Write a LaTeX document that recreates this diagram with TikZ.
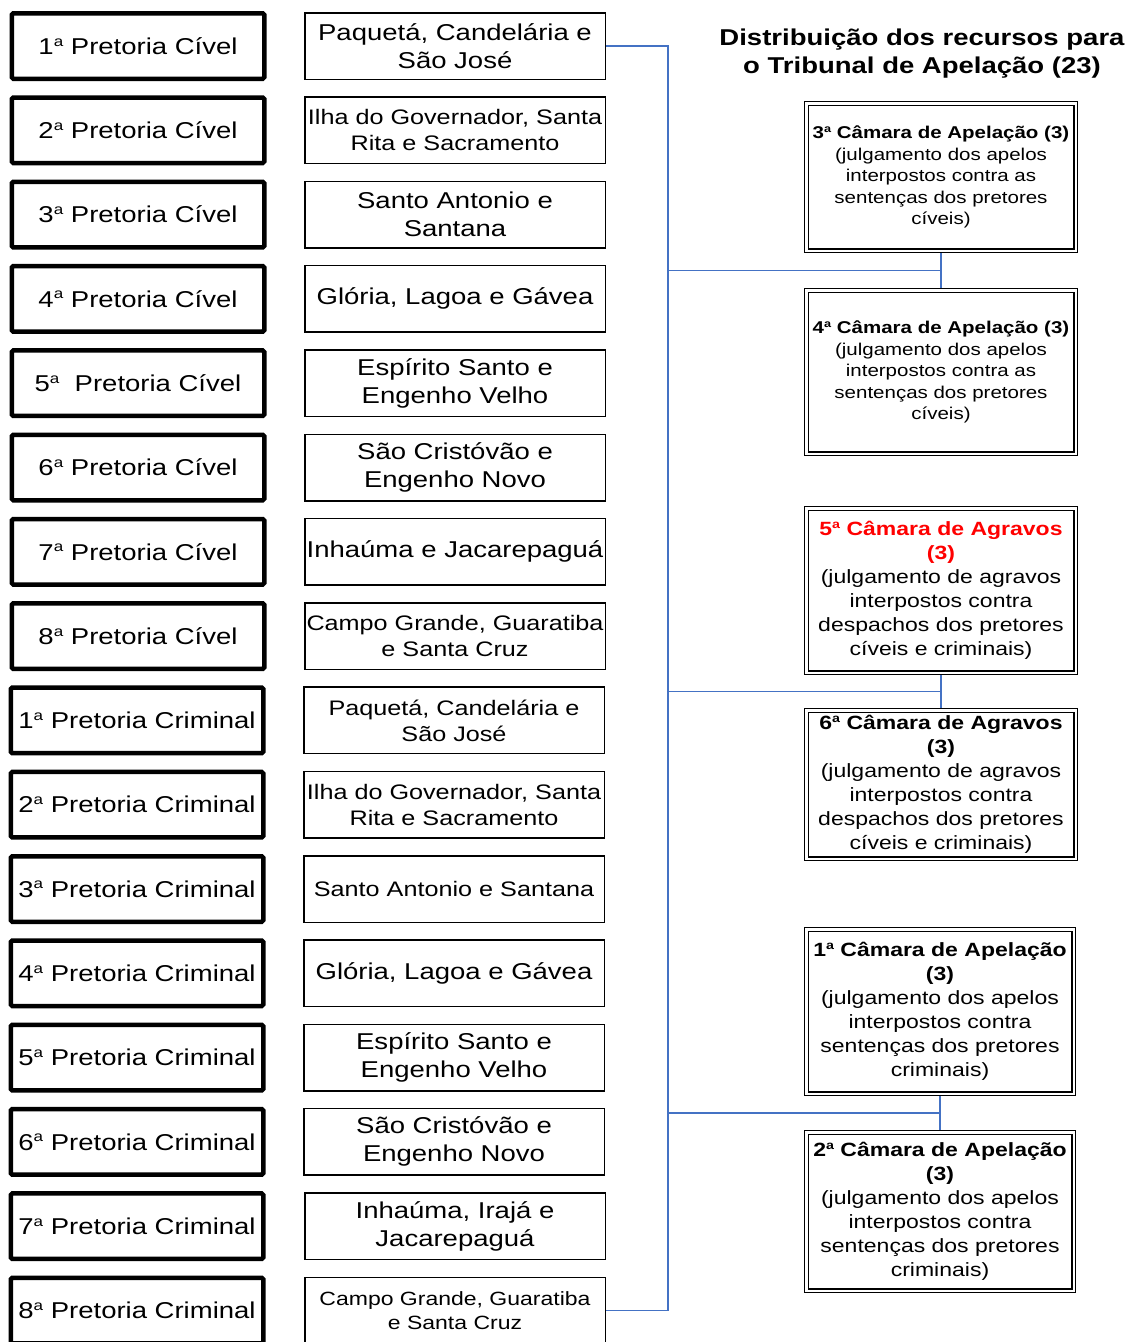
\documentclass[tikz,border=0pt]{standalone}
\usepackage{fontspec}
\setmainfont{Liberation Sans}[FakeStretch=1.2]
\usetikzlibrary{calc}
\pgfdeclarelayer{paper}
\pgfdeclarelayer{wires}
\pgfsetlayers{paper,wires,main}
\definecolor{busblue}{HTML}{4472C4}
\newcommand\ordA{\raisebox{0.36em}{\scalebox{0.62}{a}}}
\newcommand\fsz[2]{\fontsize{#1pt}{#2pt}\selectfont}

\tikzset{
  pretoria/.style={draw=black, line width=4.5pt, fill=white, rounded corners=1.5pt,
    minimum width=252.5pt, minimum height=65.5pt, inner sep=0pt, font=\fsz{22.92}{28}},
  bairro/.style={draw=black, line width=1.5pt, fill=white,
    minimum width=300.5pt, minimum height=66.5pt, inner sep=0pt, align=center},
  szA/.style={font=\fsz{22.92}{28}},
  szB/.style={font=\fsz{21}{26}},
  szC/.style={font=\fsz{19.17}{24}},
  camara/.style={draw=black, double=white, line width=1.3pt, double distance=2.2pt,
    fill=white, inner sep=0pt, align=center},
  camS/.style={font=\fsz{17.08}{21.5}},
  camL/.style={font=\fsz{19.17}{24}},
  bus/.style={draw=busblue, line width=1.8pt},
  titulo/.style={align=center, inner sep=0pt, font=\fsz{22.92}{28}\bfseries}
}

\begin{document}
\begin{tikzpicture}[x=1pt, y=-1pt]
  \path[use as bounding box] (0,0) rectangle (1128,1342);
  \begin{pgfonlayer}{paper}
    \fill[white] (0,0) rectangle (1128,1342);
  \end{pgfonlayer}
  \clip (0,0) rectangle (1128,1342);

  % pretorias
  \node[pretoria] (p1)  at (138,46)     {1\ordA{} Pretoria Cível};
  \node[pretoria] (p2)  at (138,130.3)  {2\ordA{} Pretoria Cível};
  \node[pretoria] (p3)  at (138,214.6)  {3\ordA{} Pretoria Cível};
  \node[pretoria] (p4)  at (138,298.9)  {4\ordA{} Pretoria Cível};
  \node[pretoria] (p5)  at (138,383.2)  {5\ordA{}\ \ Pretoria Cível};
  \node[pretoria] (p6)  at (138,467.5)  {6\ordA{} Pretoria Cível};
  \node[pretoria] (p7)  at (138,551.8)  {7\ordA{} Pretoria Cível};
  \node[pretoria] (p8)  at (138,636.1)  {8\ordA{} Pretoria Cível};
  \node[pretoria] (p9)  at (137,720.4)  {1\ordA{} Pretoria Criminal};
  \node[pretoria] (p10) at (137,804.7)  {2\ordA{} Pretoria Criminal};
  \node[pretoria] (p11) at (137,889)    {3\ordA{} Pretoria Criminal};
  \node[pretoria] (p12) at (137,973.3)  {4\ordA{} Pretoria Criminal};
  \node[pretoria] (p13) at (137,1057.6) {5\ordA{} Pretoria Criminal};
  \node[pretoria] (p14) at (137,1141.9) {6\ordA{} Pretoria Criminal};
  \node[pretoria] (p15) at (137,1226.2) {7\ordA{} Pretoria Criminal};
  \node[pretoria] (p16) at (137,1310.5) {8\ordA{} Pretoria Criminal};

  % freguesias
  \node[bairro, szA] (m1)  at (455,46)     {Paquetá, Candelária e\\São José};
  \node[bairro, szB] (m2)  at (455,130.3)  {Ilha do Governador, Santa\\Rita e Sacramento};
  \node[bairro, szA] (m3)  at (455,214.6)  {Santo Antonio e\\Santana};
  \node[bairro, szA] (m4)  at (455,298.9)  {Glória, Lagoa e Gávea};
  \node[bairro, szA] (m5)  at (455,383.2)  {Espírito Santo e\\Engenho Velho};
  \node[bairro, szA] (m6)  at (455,467.5)  {São Cristóvão e\\Engenho Novo};
  \node[bairro, szA] (m7)  at (455,551.8)  {Inhaúma e Jacarepaguá};
  \node[bairro, szB] (m8)  at (455,636.1)  {Campo Grande, Guaratiba\\e Santa Cruz};
  \node[bairro, szB] (m9)  at (454,720.4)  {Paquetá, Candelária e\\São José};
  \node[bairro, szB] (m10) at (454,804.7)  {Ilha do Governador, Santa\\Rita e Sacramento};
  \node[bairro, szB] (m11) at (454,889)    {Santo Antonio e Santana};
  \node[bairro, szA] (m12) at (454,973.3)  {Glória, Lagoa e Gávea};
  \node[bairro, szA] (m13) at (454,1057.6) {Espírito Santo e\\Engenho Velho};
  \node[bairro, szA] (m14) at (454,1141.9) {São Cristóvão e\\Engenho Novo};
  \node[bairro, szA] (m15) at (455,1226.2) {Inhaúma, Irajá e\\Jacarepaguá};
  \node[bairro, szC] (m16) at (455,1310.5) {Campo Grande, Guaratiba\\e Santa Cruz};

  % titulo
  \node[titulo] (tit) at (922,54) {Distribuição dos recursos para\\o Tribunal de Apelação (23)};

  % camaras
  \node[camara, camS, minimum width=269.2pt, minimum height=147.2pt] (c3) at (941,177)
    {{\bfseries 3\ordA{} Câmara de Apelação (3)}\\(julgamento dos apelos\\interpostos contra as\\sentenças dos pretores\\cíveis)};
  \node[camara, camS, minimum width=269.2pt, minimum height=163.2pt] (c4) at (941,372)
    {{\bfseries 4\ordA{} Câmara de Apelação (3)}\\(julgamento dos apelos\\interpostos contra as\\sentenças dos pretores\\cíveis)};
  \node[camara, camL, minimum width=269.2pt, minimum height=164.2pt] (c5) at (941,590.5)
    {{\bfseries\color{red}5\ordA{} Câmara de Agravos}\\{\bfseries\color{red}(3)}\\(julgamento de agravos\\interpostos contra\\despachos dos pretores\\cíveis e criminais)};
  \node[camara, camL, minimum width=269.2pt, minimum height=148.2pt] (c6) at (941,784.5)
    {{\bfseries 6\ordA{} Câmara de Agravos}\\{\bfseries (3)}\\(julgamento de agravos\\interpostos contra\\despachos dos pretores\\cíveis e criminais)};
  \node[camara, camL, minimum width=267.2pt, minimum height=164.2pt] (c1) at (940,1011.5)
    {{\bfseries 1\ordA{} Câmara de Apelação}\\{\bfseries (3)}\\(julgamento dos apelos\\interpostos contra\\sentenças dos pretores\\criminais)};
  \node[camara, camL, minimum width=267.2pt, minimum height=158.2pt] (c2) at (940,1211.5)
    {{\bfseries 2\ordA{} Câmara de Apelação}\\{\bfseries (3)}\\(julgamento dos apelos\\interpostos contra\\sentenças dos pretores\\criminais)};

  % ligacoes
  \begin{pgfonlayer}{wires}
    \coordinate (busT) at (668,46);
    \coordinate (busB) at (668,1310.5);
    \draw[bus] (m1.east) -- (busT) -- (busB) -- (m16.east);
    \coordinate (j1) at ($(c3.south)!0.5!(c4.north)$);
    \coordinate (j2) at ($(c5.south)!0.5!(c6.north)$);
    \coordinate (j3) at ($(c1.south)!0.5!(c2.north)$);
    \draw[bus] (c3.south) -- (c4.north);
    \draw[bus] (c5.south) -- (c6.north);
    \draw[bus] (c1.south) -- (c2.north);
    \draw[bus] (j1) -- (j1 -| busT);
    \draw[bus] (j2) -- (j2 -| busT);
    \draw[bus] (j3) -- (j3 -| busT);
  \end{pgfonlayer}
\end{tikzpicture}
\end{document}
